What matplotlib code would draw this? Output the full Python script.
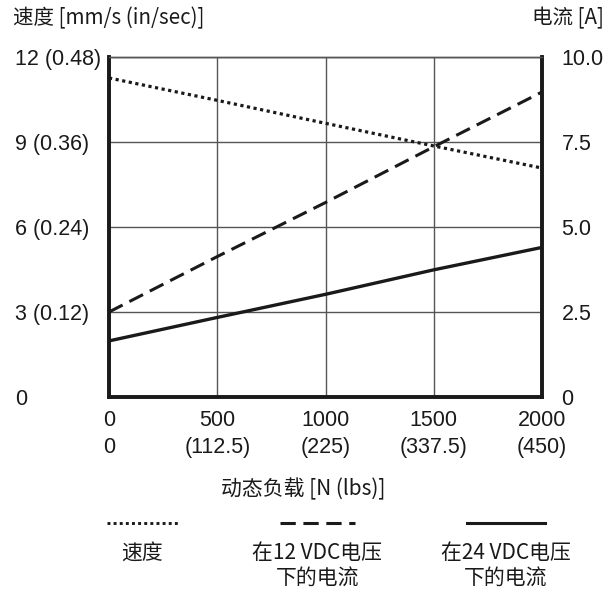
import matplotlib
matplotlib.use("Agg")
import matplotlib.pyplot as plt
from matplotlib.lines import Line2D

# load values
load_n = [0, 500, 1000, 1500, 2000]
load_lbs = ["0", "(112.5)", "(225)", "(337.5)", "(450)"]
speed = [11.26, 10.47, 9.66, 8.86, 8.08]          # mm/s
current_12v = [2.50, 4.13, 5.72, 7.36, 8.97]      # A
current_24v = [1.65, 2.34, 3.02, 3.74, 4.40]      # A

speed_ticks = [0, 3, 6, 9, 12]
speed_labels = ["0", "3 (0.12)", "6 (0.24)", "9 (0.36)", "12 (0.48)"]
current_ticks = [0, 2.5, 5.0, 7.5, 10.0]
current_labels = ["0", "2.5", "5.0", "7.5", "10.0"]

legend_names = ["速度", "在12 VDC电压\n下的电流", "在24 VDC电压\n下的电流"]

NUM_FONT = "Liberation Sans"
MIX_FONT = ["Noto Sans CJK SC", "DejaVu Sans"]
INK = "#1a1a1a"
GRID = "#555555"

fig = plt.figure(figsize=(6.14, 5.94), dpi=100)
ax = fig.add_axes([109 / 614, 1 - 397 / 594, 433 / 614, 340 / 594])
ax2 = ax.twinx()

ax.plot(load_n, speed, color=INK, lw=2.3, linestyle=(0, (1, 1.1)))
ax2.plot(load_n, current_12v, color=INK, lw=2.2, linestyle=(0, (5, 2.5)))
ax2.plot(load_n, current_24v, color=INK, lw=2.4)

ax.set_xlim(0, 2000)
ax.set_ylim(0, 12)
ax2.set_ylim(0, 10)

ax.set_xticks(load_n)
ax.set_xticklabels([f"{n}\n{l}" for n, l in zip(load_n, load_lbs)],
                   fontfamily=NUM_FONT, fontsize=15.5, linespacing=1.42)
ax.set_yticks(speed_ticks)
ax.set_yticklabels(speed_labels, fontfamily=NUM_FONT, fontsize=15.5)
for lab in ax.get_yticklabels():
    lab.set_horizontalalignment("left")
ax.tick_params(axis="y", length=0, pad=67.5, colors=INK)
ax.tick_params(axis="x", length=0, pad=9, colors=INK)

ax2.set_yticks(current_ticks)
ax2.set_yticklabels(current_labels, fontfamily=NUM_FONT, fontsize=15.5)
ax2.tick_params(axis="y", length=0, pad=14, colors=INK)

ax.grid(True, color=GRID, lw=1.0)
ax.set_axisbelow(True)

for a in (ax, ax2):
    a.spines["left"].set_linewidth(2.6)
    a.spines["right"].set_linewidth(2.6)
    a.spines["bottom"].set_linewidth(2.6)
    a.spines["top"].set_linewidth(1.0)
    a.spines["top"].set_color(GRID)
    for s in ("left", "right", "bottom"):
        a.spines[s].set_color(INK)

# axis titles
fig.text(13 / 614, 1 - 18 / 594, "速度 [mm/s (in/sec)]", family=MIX_FONT,
         fontsize=14.8, color=INK, ha="left", va="center")
fig.text(604 / 614, 1 - 18 / 594, "电流 [A]", family=MIX_FONT,
         fontsize=14.8, color=INK, ha="right", va="center")
fig.text(303 / 614, 1 - 489 / 594, "动态负载 [N (lbs)]", family=MIX_FONT,
         fontsize=15, color=INK, ha="center", va="center")

# legend underneath the chart
styles = [dict(linestyle=(0, (1, 1.1)), lw=2.1),
          dict(linestyle=(0, (5, 2.5)), lw=2.2),
          dict(linestyle="-", lw=2.2)]
spans = [(107, 178), (280, 355), (467, 545)]
for name, st, (x0, x1) in zip(legend_names, styles, spans):
    y = 1 - 523 / 594
    fig.add_artist(Line2D([x0 / 614, x1 / 614], [y, y], color=INK, **st))
    xc = (x0 + x1) / 2 / 614
    fig.text(xc, 1 - 542 / 594, name, family=MIX_FONT, fontsize=15,
             color=INK, ha="center", va="top", linespacing=1.2,
             multialignment="center")

fig.savefig("out.png", dpi=100)
